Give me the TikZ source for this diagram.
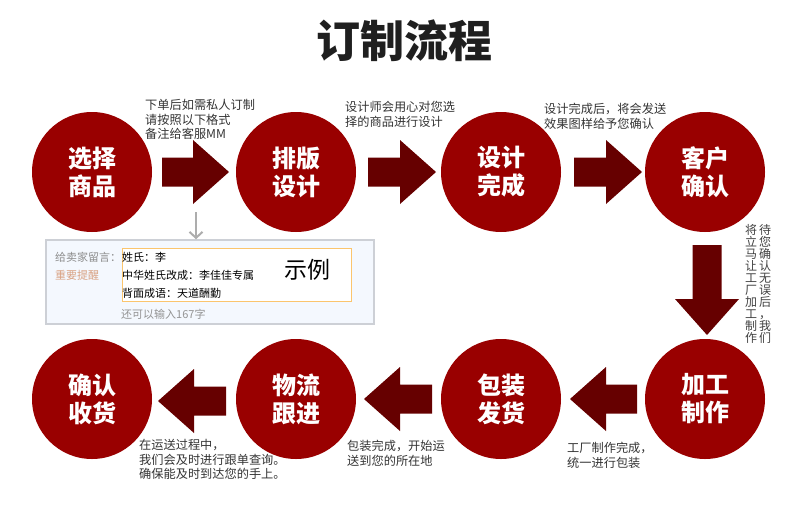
\documentclass[tikz,border=0pt]{standalone}
\usepackage{fontspec}
\setmainfont{Noto Sans CJK SC}
\usetikzlibrary{arrows.meta}
\definecolor{stepred}{HTML}{990000}
\definecolor{flowdark}{HTML}{660000}
\definecolor{notefill}{HTML}{F4F8FE}
\definecolor{noteline}{HTML}{CDD0D6}
\definecolor{hintorange}{HTML}{D9A283}
\definecolor{inputline}{HTML}{FBC56D}

\begin{document}
\begin{tikzpicture}[
  x=1pt, y=-1pt,
  step node/.style={circle, fill=stepred, minimum size=120pt, inner sep=0pt, align=center,
    text=white, font=\fontsize{24}{28}\selectfont\bfseries},
  caption node/.style={anchor=north west, inner sep=0pt, align=left, text=black!80,
    font=\fontsize{12.2}{14.6}\selectfont},
  column node/.style={inner sep=0pt, align=center, text=black!75, font=\fontsize{12}{12}\selectfont},
  small node/.style={anchor=west, inner sep=0pt, font=\fontsize{11}{13}\selectfont},
  pics/flow arrow/.style={code={
    \fill[flowdark] (0,-14.5) -- (#1-36,-14.5) -- (#1-36,-32) -- (#1,0)
      -- (#1-36,32) -- (#1-36,14.5) -- (0,14.5) -- cycle;
  }}
]
\useasboundingbox (0,0) rectangle (790,512);

\node[inner sep=0pt, text=black!88, font=\fontsize{44}{50}\selectfont\bfseries] (title) at (404,41) {订制流程};

% top row
\node[step node] (select) at (92,172) {选择\\商品};
\node[step node] (layout) at (296,172) {排版\\设计};
\node[step node] (design) at (501,172) {设计\\完成};
\node[step node] (confirm) at (705,172) {客户\\确认};
% bottom row
\node[step node] (make) at (705,399) {加工\\制作};
\node[step node] (pack) at (501,399) {包装\\发货};
\node[step node] (ship) at (296,399) {物流\\跟进};
\node[step node] (receive) at (92,399) {确认\\收货};

% block arrows
\pic at (162,172) {flow arrow=67};
\pic at (368,172) {flow arrow=68};
\pic at (574,172) {flow arrow=68};
\pic[rotate=-90] at (707,245) {flow arrow=90};
\pic[rotate=180] at (637,399) {flow arrow=67};
\pic[rotate=180] at (432,399) {flow arrow=68};
\pic[rotate=180] at (226,401) {flow arrow=68};

% captions
\node[caption node] (cap one) at (145,99) {下单后如需私人订制\\请按照以下格式\\备注给客服MM};
\node[caption node] (cap two) at (345,101) {设计师会用心对您选\\择的商品进行设计};
\node[caption node] (cap three) at (544,103) {设计完成后，将会发送\\效果图样给予您确认};
\node[column node] (cap four a) at (765,284) {待\\您\\确\\认\\无\\误\\后\\，\\我\\们};
\node[column node] (cap four b) at (751,284) {将\\立\\马\\让\\工\\厂\\加\\工\\制\\作};
\node[caption node] (cap five) at (567,442) {工厂制作完成，\\统一进行包装};
\node[caption node] (cap six) at (347,440) {包装完成，开始运\\送到您的所在地};
\node[caption node] (cap seven) at (139,439) {在运送过程中，\\我们会及时进行跟单查询。\\确保能及时到达您的手上。};

% sample note
\node[draw=noteline, fill=notefill, line width=1.5pt, minimum width=328pt, minimum height=84pt, inner sep=0pt] (note) at (210,282) {};
\node[draw=inputline, fill=white, line width=1pt, minimum width=229pt, minimum height=53pt, inner sep=0pt] (input) at (236.5,274.5) {};
\coordinate (hint start) at (196,212);
\draw[draw=black!32, line width=2pt, -{Straight Barb[length=6pt, width=13pt]}] (hint start) -- (hint start |- note.north);
\node[small node, text=black!45] (label) at (55,257) {给卖家留言：};
\node[small node, text=hintorange] (hint) at (55,275) {重要提醒};
\node[small node, text=black] (line one) at (122,257) {姓氏：李};
\node[small node, text=black] (line two) at (122,275) {中华姓氏改成：李佳佳专属};
\node[small node, text=black] (line three) at (122,293) {背面成语：天道酬勤};
\node[inner sep=0pt, text=black, font=\fontsize{23}{26}\selectfont] (sample) at (307,270) {示例};
\node[small node, text=black!42] (count) at (121,314) {还可以输入167字};
\end{tikzpicture}
\end{document}
